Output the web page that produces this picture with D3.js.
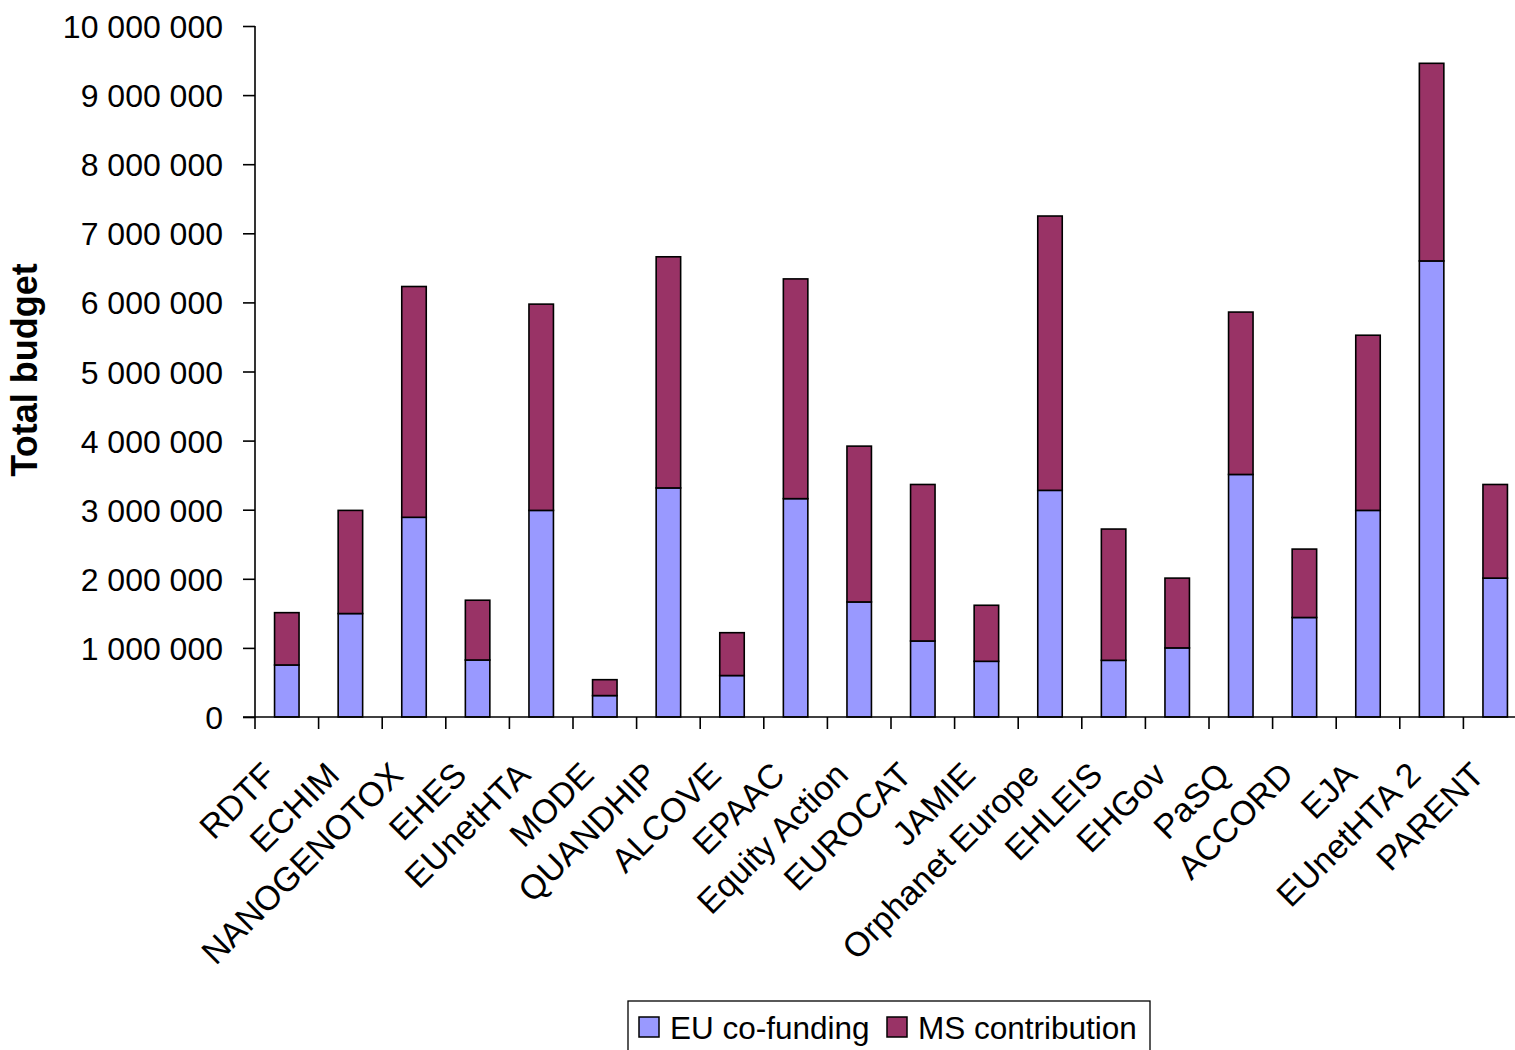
<!DOCTYPE html>
<html>
 <head>
  <meta charset="utf-8">
  <script src="https://d3js.org/d3.v7.min.js"></script>
  <style>
   body { margin: 0; background: #fff; }
   text { font-family: "Liberation Sans", Arial, sans-serif; }
  </style>
 </head>
 <body>
  <div id="chart"></div>
  <script type="text/javascript">
   // projects, in axis order
   var projects = ["RDTF", "ECHIM", "NANOGENOTOX", "EHES", "EUnetHTA", "MODE", "QUANDHIP",
     "ALCOVE", "EPAAC", "Equity Action", "EUROCAT", "JAMIE", "Orphanet Europe", "EHLEIS",
     "EHGov", "PaSQ", "ACCORD", "EJA", "EUnetHTA 2", "PARENT"];
   // EU co-funding (EUR)
   var euFunding = [753000, 1497000, 2890000, 825000, 2990000, 310000, 3315000,
     600000, 3160000, 1665000, 1100000, 806000, 3280000, 820000,
     1000000, 3510000, 1440000, 2990000, 6600000, 2010000];
   // MS contribution (EUR)
   var msContribution = [757000, 1493000, 3340000, 865000, 2985000, 230000, 3345000,
     620000, 3180000, 2255000, 2265000, 811000, 3970000, 1900000,
     1010000, 2350000, 990000, 2535000, 2860000, 1355000];
   var yTicks = [0, 1000000, 2000000, 3000000, 4000000, 5000000, 6000000, 7000000, 8000000, 9000000, 10000000];
   var seriesNames = ["EU co-funding", "MS contribution"];
   var seriesColors = ["#9999FF", "#993366"];

   var W = 1515, H = 1050;
   var svg = d3.select("#chart").append("svg")
     .attr("width", W).attr("height", H);

   var x = d3.scaleBand()
     .domain(projects)
     .range([255, 1527])
     .paddingInner(0.615)
     .paddingOuter(0.3075);
   var y = d3.scaleLinear()
     .domain([0, 10000000])
     .range([717, 26]);

   // stacked data
   var rows = projects.map(function (p, i) {
     return { project: p, eu: euFunding[i], ms: msContribution[i] };
   });
   var stack = d3.stack().keys(["eu", "ms"]);
   var layers = stack(rows);

   var g = svg.append("g");
   g.selectAll("g.layer")
     .data(layers)
     .enter().append("g")
       .attr("class", "layer")
       .attr("fill", function (d, i) { return seriesColors[i]; })
     .selectAll("rect")
     .data(function (d) { return d; })
     .enter().append("rect")
       .attr("x", function (d) { return x(d.data.project); })
       .attr("width", x.bandwidth())
       .attr("y", function (d) { return y(d[1]); })
       .attr("height", function (d) { return y(d[0]) - y(d[1]); })
       .attr("stroke", "#000")
       .attr("stroke-width", 1.6);

   // y axis
   var fmt = d3.format(",");
   var yAxis = d3.axisLeft(y)
     .tickValues(yTicks)
     .tickSize(12)
     .tickPadding(20)
     .tickFormat(function (d) { return fmt(d).replace(/,/g, " "); });
   var ya = svg.append("g")
     .attr("transform", "translate(255,0)")
     .call(yAxis);
   ya.select(".domain").attr("stroke", "#000").attr("stroke-width", 1.6)
     .attr("d", "M0," + y(10000000) + "V" + y(0));
   ya.selectAll(".tick line").attr("stroke", "#000").attr("stroke-width", 1.6);
   ya.selectAll(".tick text")
     .attr("fill", "#000")
     .style("font-size", "32px")
     .attr("dy", "0.36em");

   // x axis
   var half = (x.step() - x.bandwidth()) / 2;
   svg.append("line")
     .attr("x1", 243).attr("x2", W)
     .attr("y1", y(0)).attr("y2", y(0))
     .attr("stroke", "#000").attr("stroke-width", 1.6);
   svg.selectAll("line.xtick")
     .data(projects)
     .enter().append("line")
       .attr("class", "xtick")
       .attr("x1", function (d) { return x(d) - half; })
       .attr("x2", function (d) { return x(d) - half; })
       .attr("y1", y(0)).attr("y2", y(0) + 12)
       .attr("stroke", "#000").attr("stroke-width", 1.6);
   svg.selectAll("text.xlab")
     .data(projects)
     .enter().append("text")
       .attr("class", "xlab")
       .attr("text-anchor", "end")
       .style("font-size", "34px")
       .attr("transform", function (d) {
         var cx = x(d) + x.bandwidth() / 2;
         return "translate(" + (cx - 9) + "," + (y(0) + 60) + ") rotate(-45)";
       })
       .text(function (d) { return d; });

   // axis title
   svg.append("text")
     .attr("transform", "translate(37,370) rotate(-90)")
     .attr("text-anchor", "middle")
     .style("font-size", "36px")
     .style("font-weight", "bold")
     .text("Total budget");

   // legend
   var lg = svg.append("g");
   lg.append("rect")
     .attr("x", 628).attr("y", 1001)
     .attr("width", 522).attr("height", 80)
     .attr("fill", "#fff").attr("stroke", "#000").attr("stroke-width", 1.3);
   var legendX = [639, 887];
   seriesNames.forEach(function (name, i) {
     lg.append("rect")
       .attr("x", legendX[i]).attr("y", 1017)
       .attr("width", 20).attr("height", 20)
       .attr("fill", seriesColors[i])
       .attr("stroke", "#000").attr("stroke-width", 1.5);
     lg.append("text")
       .attr("x", legendX[i] + 31).attr("y", 1039)
       .style("font-size", "31.5px")
       .text(name);
   });
  </script>
 </body>
</html>
